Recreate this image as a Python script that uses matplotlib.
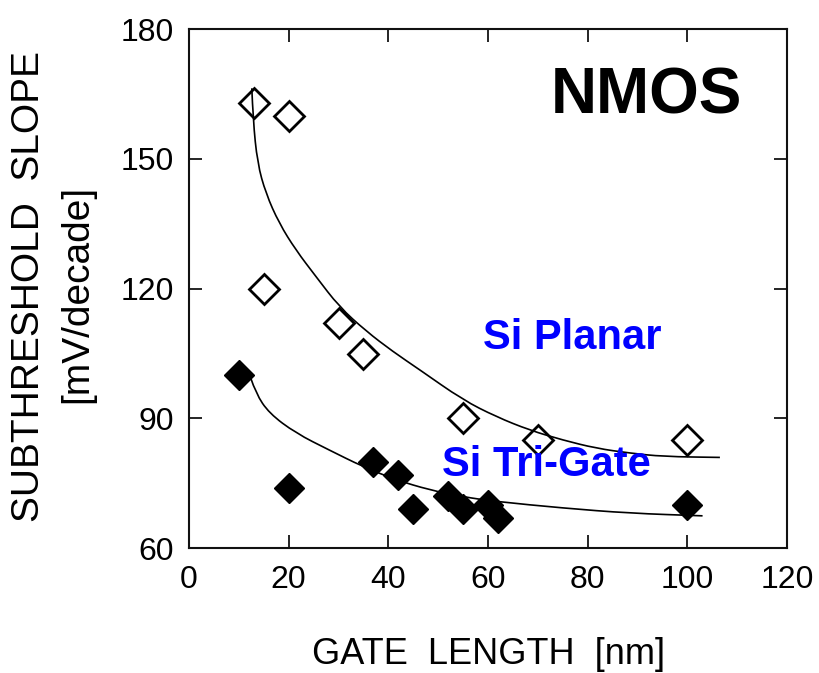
import matplotlib
matplotlib.use("Agg")
import matplotlib.pyplot as plt
from matplotlib.path import Path
from matplotlib.patches import PathPatch

plt.rcParams['font.family'] = ['Liberation Sans', 'DejaVu Sans']

# ---- data ----
planar_x = [13, 20, 15, 30, 35, 55, 70, 100]
planar_y = [163, 160, 120, 112, 105, 90, 85, 85]

trigate_x = [10, 20, 37, 42, 45, 52, 55, 60, 62, 100]
trigate_y = [100, 74, 80, 77, 69, 72, 69, 70, 67, 70]

# guide curves
planar_fit_x = [12.6, 12.86, 13.73, 15.42, 18.09, 21.45, 25.47, 30.15, 35.52,
                40.86, 46.23, 54.94, 61.65, 68.34, 75.03, 81.75, 88.44, 95.14, 106.53]
planar_fit_y = [166.3, 159.0, 149.0, 142.0, 135.1, 128.9, 122.8, 115.8, 110.2,
                105.5, 101.3, 94.3, 90.4, 87.3, 85.0, 83.1, 82.0, 81.2, 81.0]

trigate_fit_x = [12.4, 13.41, 16.08, 21.45, 28.14, 34.83, 41.55, 48.24, 54.94,
                 61.65, 75.03, 88.44, 103.05]
trigate_fit_y = [99.3, 95.8, 91.2, 86.6, 82.7, 78.9, 75.8, 73.5, 71.9,
                 70.8, 69.3, 68.1, 67.5]

xticks = [0, 20, 40, 60, 80, 100, 120]
yticks = [60, 90, 120, 150, 180]


def smooth_path(xs, ys):
    """Quadratic-Bezier rendering through the read points (drawing only)."""
    pts = list(zip(xs, ys))
    verts = [pts[0]]
    codes = [Path.MOVETO]
    for i in range(1, len(pts) - 1):
        mid = ((pts[i][0] + pts[i + 1][0]) / 2, (pts[i][1] + pts[i + 1][1]) / 2)
        verts += [pts[i], mid]
        codes += [Path.CURVE3, Path.CURVE3]
    verts.append(pts[-1])
    codes.append(Path.LINETO)
    return Path(verts, codes)


fig = plt.figure(figsize=(8.2, 6.73), dpi=100)
ax = fig.add_axes([0.2305, 0.1853, 0.7293, 0.7716])

for fx, fy in ((planar_fit_x, planar_fit_y), (trigate_fit_x, trigate_fit_y)):
    ax.add_patch(PathPatch(smooth_path(fx, fy), facecolor='none',
                           edgecolor='black', lw=1.2, zorder=2))

ax.plot(planar_x, planar_y, linestyle='none', marker='D', ms=15.5,
        mfc='none', mec='black', mew=2.0, zorder=3)
ax.plot(trigate_x, trigate_y, linestyle='none', marker='D', ms=15.5,
        mfc='black', mec='black', mew=1.0, zorder=3)

ax.set_xlim(0, 120)
ax.set_ylim(60, 180)
ax.set_xticks(xticks)
ax.set_yticks(yticks)
ax.tick_params(direction='in', length=9.5, width=1.2, top=True, right=True,
               labelsize=23, colors='black')
ax.tick_params(axis='x', pad=12)
ax.tick_params(axis='y', pad=11)
for s in ax.spines.values():
    s.set_linewidth(1.5)
    s.set_color('#111111')

ax.text(91.7, 164.3, 'NMOS', fontsize=46, fontweight='bold', color='black',
        ha='center', va='center')
ax.text(76.9, 108.6, 'Si Planar', fontsize=30, fontweight='bold', color='#0000FF',
        ha='center', va='center')
ax.text(71.7, 79.3, 'Si Tri-Gate', fontsize=30, fontweight='bold', color='#0000FF',
        ha='center', va='center')

fig.text(0.5957, 0.028, 'GATE  LENGTH  [nm]', fontsize=26, ha='center', va='center')
fig.text(0.035, 0.5736, 'SUBTHRESHOLD  SLOPE', fontsize=28, rotation=90,
         ha='center', va='center')
fig.text(0.0945, 0.563, '[mV/decade]', fontsize=28, rotation=90,
         ha='center', va='center')

fig.savefig('out.png', dpi=100)
